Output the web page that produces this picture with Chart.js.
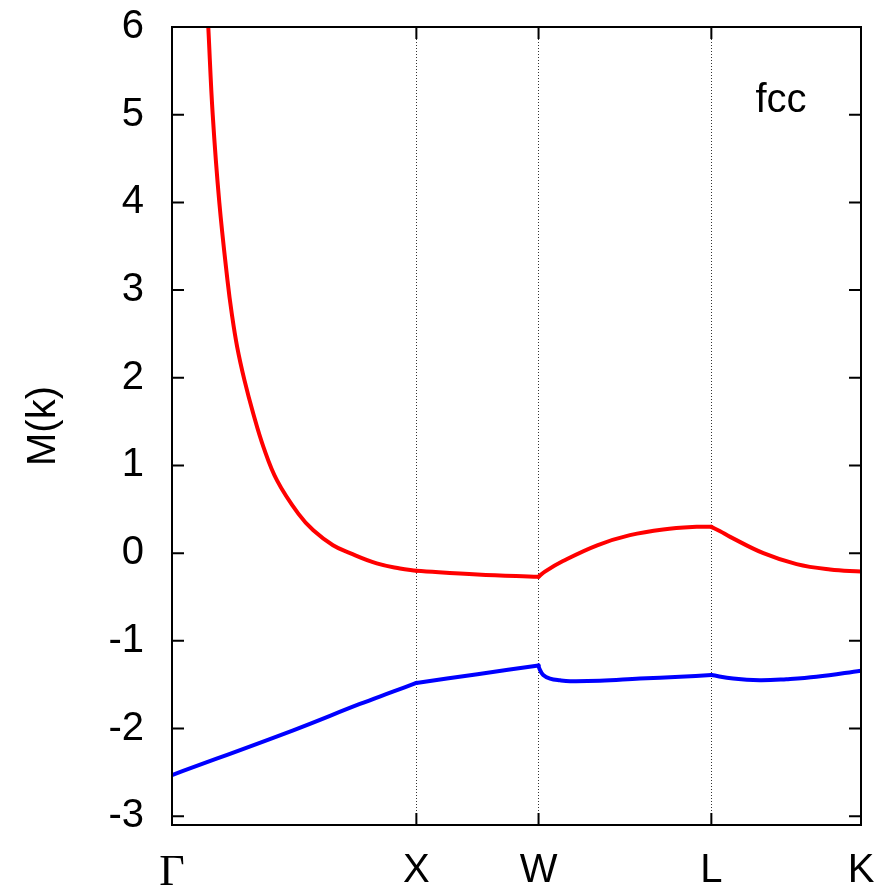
<!DOCTYPE html>
<html>
<head>
<meta charset="utf-8">
<script src="https://cdn.jsdelivr.net/npm/chart.js@4.4.0/dist/chart.umd.min.js"></script>
<style>
  html, body { margin: 0; padding: 0; background: #fff; }
</style>
</head>
<body>
<canvas id="myChart" width="894" height="891"></canvas>
<script>
// k-path labels and positions along the path
const kLabels = ['Γ', 'X', 'W', 'L', 'K'];
const kPos = [0, 1, 1.5, 2.2071, 2.8195];
const yTicks = [-3, -2, -1, 0, 1, 2, 3, 4, 5, 6];

// upper band (red)
const redK = [0.1485, 0.1666, 0.1936, 0.2271, 0.2447, 0.2668, 0.2967, 0.3327, 0.3744, 0.4297, 0.5168, 0.5782, 0.6588, 0.7284, 0.8377, 0.933, 1.0,
    1.25, 1.5, 1.526, 1.6, 1.74, 1.874, 2.01, 2.147, 2.2071, 2.243, 2.284, 2.42, 2.556, 2.693, 2.8195];
const redM = [6.0, 5.0, 4.0, 3.11, 2.73, 2.35, 1.97, 1.59, 1.21, 0.83, 0.45, 0.26, 0.09, 0.0, -0.117, -0.174, -0.20,
    -0.243, -0.27, -0.21, -0.09, 0.09, 0.205, 0.27, 0.30, 0.30, 0.25, 0.186, 0.0, -0.125, -0.186, -0.21];

// lower band (blue)
const blueK = [0, 0.496, 0.769, 0.904, 1.0, 1.25, 1.5, 1.503, 1.519, 1.547, 1.588, 1.629, 1.751, 1.915, 2.079, 2.2071,
    2.296, 2.405, 2.514, 2.637, 2.8195];
const blueM = [-2.53, -2.02, -1.72, -1.58, -1.48, -1.38, -1.28, -1.315, -1.39, -1.43, -1.45, -1.46, -1.455, -1.43, -1.41, -1.39,
    -1.43, -1.449, -1.437, -1.41, -1.34];

// split a band into path segments so the kinks at X, W, L stay sharp
function segments(xs, ys) {
    const out = [];
    for (let s = 0; s < kPos.length - 1; s++) {
        const pts = [];
        xs.forEach((v, i) => {
            if (v >= kPos[s] - 1e-6 && v <= kPos[s + 1] + 1e-6) pts.push({ x: v, y: ys[i] });
        });
        if (pts.length > 1) out.push(pts);
    }
    return out;
}

const bandSet = (pts, color) => ({
    data: pts,
    borderColor: color,
    borderWidth: 4,
    pointRadius: 0,
    tension: 0.4,
    borderCapStyle: 'round',
    borderJoinStyle: 'round'
});

// frame, inward ticks and the "fcc" label
const framePlugin = {
    id: 'frame',
    afterDatasetsDraw(chart) {
        const { ctx, chartArea: a, scales: { x, y } } = chart;
        ctx.save();
        ctx.strokeStyle = '#000';
        ctx.lineWidth = 2;
        ctx.strokeRect(a.left, a.top, a.right - a.left, a.bottom - a.top);
        ctx.beginPath();
        yTicks.forEach(v => {
            const py = y.getPixelForValue(v);
            ctx.moveTo(a.left, py); ctx.lineTo(a.left + 12, py);
            ctx.moveTo(a.right, py); ctx.lineTo(a.right - 12, py);
        });
        kPos.slice(1, -1).forEach(v => {
            const px = x.getPixelForValue(v);
            ctx.moveTo(px, a.bottom); ctx.lineTo(px, a.bottom - 12);
            ctx.moveTo(px, a.top); ctx.lineTo(px, a.top + 12);
        });
        ctx.stroke();
        ctx.fillStyle = '#000';
        ctx.font = '40px "Liberation Sans"';
        ctx.textAlign = 'center';
        ctx.textBaseline = 'alphabetic';
        ctx.fillText('fcc', x.getPixelForValue(2.492), y.getPixelForValue(5.03));
        ctx.restore();
    }
};

const ctx = document.getElementById('myChart').getContext('2d');

const bandChart = new Chart(ctx, {
    type: 'line',
    data: {
        datasets: [
            ...segments(redK, redM).map(p => bandSet(p, '#ff0000')),
            ...segments(blueK, blueM).map(p => bandSet(p, '#0000ff'))
        ]
    },
    options: {
        responsive: false,
        animation: false,
        devicePixelRatio: 1,
        layout: { padding: { top: 27, right: 33, left: 20, bottom: 0 } },
        plugins: {
            legend: { display: false },
            tooltip: { enabled: false }
        },
        scales: {
            x: {
                type: 'linear',
                min: 0,
                max: kPos[kPos.length - 1],
                afterBuildTicks: s => { s.ticks = kPos.map(v => ({ value: v })); },
                afterFit: s => { s.height = 66; s.paddingLeft = 0; s.paddingRight = 0; },
                ticks: {
                    color: '#000',
                    padding: 22,
                    maxRotation: 0,
                    autoSkip: false,
                    font: c => c.index === 0
                        ? { family: 'Liberation Serif', size: 44 }
                        : { family: 'Liberation Sans', size: 40 },
                    callback: (v, i) => kLabels[i]
                },
                grid: {
                    drawTicks: false,
                    lineWidth: 1,
                    color: c => (c.index === 0 || c.index === kPos.length - 1) ? 'rgba(0,0,0,0)' : '#333'
                },
                border: { display: false, dash: [1, 2] }
            },
            y: {
                type: 'linear',
                min: -3.1,
                max: 6,
                afterBuildTicks: s => { s.ticks = yTicks.map(v => ({ value: v })); },
                afterFit: s => { s.width = 152; s.paddingTop = 0; s.paddingBottom = 0; },
                ticks: {
                    color: '#000',
                    padding: 20,
                    font: { family: 'Liberation Sans', size: 40 }
                },
                grid: { display: false },
                border: { display: false },
                title: {
                    display: true,
                    text: 'M(k)',
                    color: '#000',
                    font: { family: 'Liberation Sans', size: 40 },
                    padding: 0
                }
            }
        }
    },
    plugins: [framePlugin]
});
</script>
</body>
</html>
